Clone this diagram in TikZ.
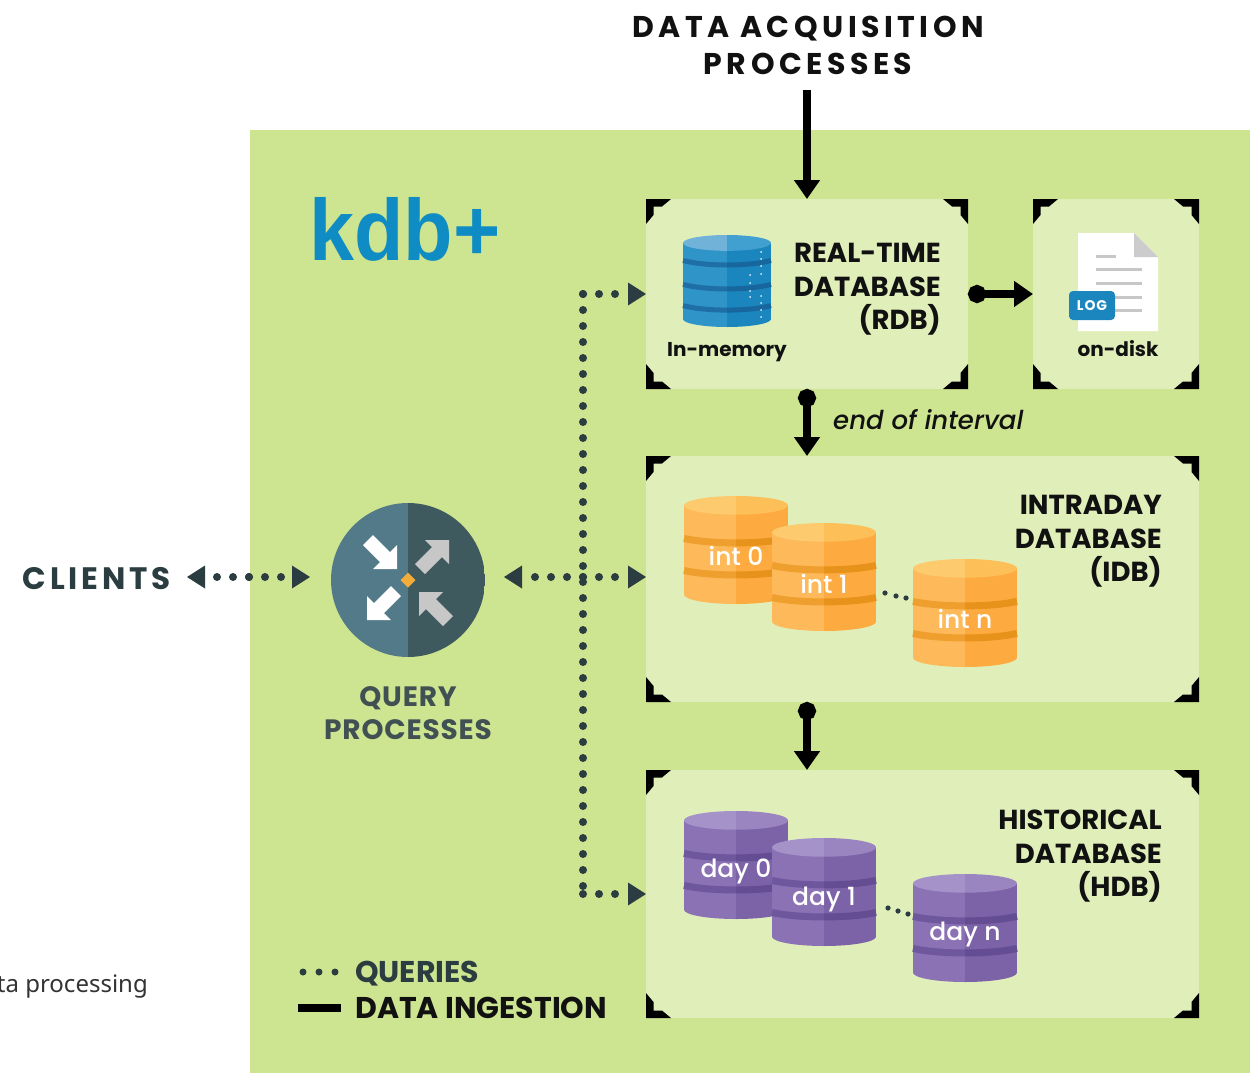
\documentclass[tikz,border=0pt]{standalone}
\usepackage{graphicx}
\usepackage{fontspec}
\setmainfont{Poppins}[ItalicFont={Poppins Medium Italic}]
\newfontfamily\mediumfont{Poppins Medium}
\newfontfamily\arialfont{Liberation Sans}
\newfontfamily\notefont{Noto Sans}
\usetikzlibrary{arrows.meta,calc}
\definecolor{bgGreen}{HTML}{CDE490}
\definecolor{panelGreen}{HTML}{E0EFBA}
\definecolor{slate}{HTML}{2B3D40}
\definecolor{ink}{HTML}{111111}
\definecolor{kdbBlue}{HTML}{0F8CC3}
\definecolor{qLeft}{HTML}{527A88}
\definecolor{qRight}{HTML}{3F5A5E}
\definecolor{qDiamond}{HTML}{F2AC3A}
\definecolor{orBL}{HTML}{FDB95A}\definecolor{orBR}{HTML}{FDAB40}\definecolor{orTL}{HTML}{FDCB6E}\definecolor{orTR}{HTML}{FDBF58}\definecolor{orDL}{HTML}{EF9F2E}\definecolor{orDR}{HTML}{E7921B}
\definecolor{puBL}{HTML}{8B72B5}\definecolor{puBR}{HTML}{7C63A8}\definecolor{puTL}{HTML}{A592C9}\definecolor{puTR}{HTML}{9A85C0}\definecolor{puDL}{HTML}{6F579E}\definecolor{puDR}{HTML}{654D94}
\definecolor{blBL}{HTML}{2F94C8}\definecolor{blBR}{HTML}{1B86BD}\definecolor{blTL}{HTML}{70B2D8}\definecolor{blTR}{HTML}{42A0D0}\definecolor{blDL}{HTML}{1F6FA6}\definecolor{blDR}{HTML}{17669E}
\tikzset{
  panel/.style={fill=panelGreen,draw=none,inner sep=0pt,outer sep=0pt},
  hd/.style={align=right,anchor=north east,font=\fontsize{27.5}{33.5}\selectfont\bfseries,text=ink,inner sep=0pt},
  flow/.style={draw=black,line width=8pt,-{Triangle[length=19pt,width=25pt]}},
  flowdot/.style={draw=black,line width=8pt,{Circle[length=18pt,width=18pt]}-{Triangle[length=19pt,width=25pt]}},
  qdots/.style={draw=slate,line width=8pt,line cap=round,dash pattern=on 0pt off 16pt},
  qarrow/.style={qdots,-{Triangle[length=18pt,width=23pt,fill=slate,line width=0pt]}},
  dbtext/.style={text=white,font=\fontsize{25}{25}\selectfont\mediumfont,inner sep=0pt},
  smalllabel/.style={font=\fontsize{20}{20}\selectfont\bfseries,text=ink,inner sep=0pt},
}
\newcommand\bracket[5]{% x y sx sy
  \fill[black,shift={(#1,#2)},xscale=#3,yscale=#4]
    (0,0) -- (25,0) -- (16,7.5) -- (7.5,7.5) -- (7.5,16) -- (0,25) -- cycle;}
\newcommand\brackets[4]{%
  \bracket{#1}{#2}{1}{1}{}\bracket{#3}{#2}{-1}{1}{}\bracket{#1}{#4}{1}{-1}{}\bracket{#3}{#4}{-1}{-1}{}}
\newcommand\dbhalf[9]{%
  \begin{scope}
    \clip (#1,#2-1) rectangle (#3,#2+#5+1);
    \pgfmathsetmacro\ry{#4*0.09}
    \fill[#6] ({#1-#4/2},#2+\ry) rectangle ({#1+#4/2},#2+#5-\ry);
    \fill[#6] (#1,#2+#5-\ry) ellipse [x radius=#4/2,y radius=\ry];
    \foreach \f in {#9}{
      \draw[#8,line width=\bandw pt]
        ({#1-#4/2},{#2+\f*#5+\bandw/2}) .. controls ({#1-#4/4},{#2+\f*#5+\bandw/2+6}) and ({#1+#4/4},{#2+\f*#5+\bandw/2+6}) .. ({#1+#4/2},{#2+\f*#5+\bandw/2});
    }
    \fill[#7] (#1,#2+\ry) ellipse [x radius=#4/2,y radius=\ry];
  \end{scope}}
\newcommand\dbstack[7]{%
  \def\bandw{#7}%
  \dbhalf{#1}{#2}{#1-#3}{#3}{#4}{#5BL}{#5TL}{#5DL}{#6}%
  \dbhalf{#1}{#2}{#1+#3}{#3}{#4}{#5BR}{#5TR}{#5DR}{#6}}
\newcommand\blockarrow[5]{%
  \fill[#5,shift={(#1,#2)},xscale=#3,yscale=#4]
    (0,0) -- (0,-24) -- (-7,-17) -- (-24,-34) -- (-34,-24) -- (-17,-7) -- (-24,0) -- cycle;}
\begin{document}
\begin{tikzpicture}[x=1pt,y=-1pt]
\useasboundingbox (0,0) rectangle (1250,1073);
\fill[white] (0,0) rectangle (1250,1073);
\fill[bgGreen] (250,130) rectangle (1250,1073);

% panels
\node[panel,minimum width=322pt,minimum height=190pt] (rdb) at (807,294) {};
\node[panel,minimum width=166pt,minimum height=190pt] (log) at (1116,294) {};
\node[panel,minimum width=553pt,minimum height=246pt] (idb) at (922.5,579) {};
\node[panel,minimum width=553pt,minimum height=248pt] (hdb) at (922.5,894) {};
\brackets{646}{199}{968}{389}
\brackets{1033}{199}{1199}{389}
\brackets{646}{456}{1199}{702}
\brackets{646}{770}{1199}{1018}

% top title and logo
\node[font=\fontsize{30}{37}\selectfont\bfseries\addfontfeatures{LetterSpace=15},text=ink,align=center,inner sep=0pt] (acq) at (808,45) {DATA ACQUISITION\\PROCESSES};
\node[font=\arialfont\bfseries\fontsize{87}{87}\selectfont,text=kdbBlue,inner sep=0pt,anchor=base west] (kdb) at (309,260) {\scalebox{0.93}[1]{kdb+}};

% RDB contents
\dbstack{727}{235}{88}{92}{bl}{0.25,0.51,0.74}{5}
\foreach \px/\py in {761/252,761/259,761/266,761/274,750/275,750/283,750/291,750/297,761/296,761/303,761/310,761/317}
  \fill[white!85!blBL] (\px,\py) circle (1pt);
\node[hd] (rdbt) at (941,243) {REAL-TIME\\DATABASE\\(RDB)};
\node[smalllabel] (inmem) at (727,352) {In-memory};

% log contents
\path[fill=white] (1078,233) -- (1134,233) -- (1158,257) -- (1158,331) -- (1078,331) -- cycle;
\fill[black!20] (1134,233) -- (1158,257) -- (1134,257) -- cycle;
\foreach \ly/\lx in {256/1116,269/1142,283/1142,297/1142,310/1142}
  \fill[black!22] (1096,\ly-1.5) rectangle (\lx,\ly+1.5);
\node[fill=blBR,rounded corners=4pt,minimum width=46pt,minimum height=29pt,inner sep=0pt,text=white,font=\fontsize{14}{14}\selectfont\bfseries\addfontfeatures{LetterSpace=6}] (badge) at (1092,305.5) {LOG};
\node[smalllabel] (ondisk) at (1118,349) {on-disk};

% IDB contents
\dbstack{736}{496}{104}{108}{or}{0.36,0.657}{7}
\node[dbtext] (int0) at (736,556) {int 0};
\dbstack{824}{523}{104}{108}{or}{0.36,0.657}{7}
\node[dbtext] (int1) at (824,584) {int 1};
\dbstack{965}{559}{104}{108}{or}{0.36,0.657}{7}
\node[dbtext] (intn) at (965,619) {int n};
\foreach \px/\py in {885/593,896/596,906/598} \fill[slate] (\px,\py) circle (2.6pt);
\node[hd] (idbt) at (1162,495) {INTRADAY\\DATABASE\\(IDB)};

% HDB contents
\dbstack{736}{811}{104}{108}{pu}{0.36,0.657}{7}
\node[dbtext] (day0) at (736,871) {day 0};
\dbstack{824}{838}{104}{108}{pu}{0.36,0.657}{7}
\node[dbtext] (day1) at (824,899) {day 1};
\dbstack{965}{874}{104}{108}{pu}{0.36,0.657}{7}
\node[dbtext] (dayn) at (965,934) {day n};
\foreach \px/\py in {888/908,898/911,908/914} \fill[slate] (\px,\py) circle (2.6pt);
\node[hd] (hdbt) at (1162,810) {HISTORICAL\\DATABASE\\(HDB)};

% query processes icon
\node[circle,minimum size=154pt,inner sep=0pt,outer sep=0pt] (query) at (408,580) {};
\begin{scope}
  \clip (query.center) circle (77);
  \fill[qLeft] (331,503) rectangle (408,657);
  \fill[qRight] (408,503) rectangle (485,657);
\end{scope}
\blockarrow{397}{569}{1}{1}{white}
\blockarrow{449}{540}{1}{-1}{black!22!white}
\blockarrow{367}{620}{-1}{1}{white}
\blockarrow{419}{592}{-1}{-1}{black!22!white}
\fill[qDiamond] (408,572.5) -- (415.5,580) -- (408,587.5) -- (400.5,580) -- cycle;
\node[align=center,font=\fontsize{28}{33.5}\selectfont\bfseries\addfontfeatures{LetterSpace=3},text=slate!90!white,inner sep=0pt] (qlabel) at (408,713) {QUERY\\PROCESSES};

% clients
\node[font=\fontsize{31}{31}\selectfont\bfseries\addfontfeatures{LetterSpace=12.5},text=slate,inner sep=0pt,anchor=east] (clients) at (171,579) {CLIENTS};

% connectors: ingestion
\coordinate (acqend) at (807,90);
\draw[flow] (acqend) -- (rdb.north);
\draw[flowdot] (rdb.east) -- (log.west);
\draw[flowdot] (rdb.south) -- (rdb.south |- idb.north);
\draw[flowdot] (rdb.south |- idb.south) -- (rdb.south |- hdb.north);
\node[font=\fontsize{26}{26}\selectfont\itshape,text=ink,inner sep=0pt,anchor=west] (eoi) at (833,420) {end of interval};

% connectors: queries
\coordinate (junction) at (583,577);
\coordinate (jtop) at (583,294);
\coordinate (jbot) at (583,894);
\coordinate (qright) at (504,577);
\coordinate (qleft) at (310,577);
\coordinate (cmid) at (249,577);
\coordinate (cleft) at (187,577);
\draw[qdots] (jtop) -- (jbot);
\draw[qarrow] (jtop) -- (rdb.west);
\draw[qarrow] (jbot) -- (hdb.west);
\draw[qarrow] (junction) -- (qright);
\draw[qarrow] (junction) -- (idb.west |- junction);
\draw[qarrow] (cmid) -- (cleft);
\draw[qarrow] (cmid) -- (qleft);

% legend
\coordinate (l1a) at (303,972);
\coordinate (l1b) at (336,972);
\draw[qdots,line width=7pt] (l1a) -- (l1b);
\coordinate (l2a) at (298,1008);
\coordinate (l2b) at (341,1008);
\draw[black,line width=8pt] (l2a) -- (l2b);
\node[font=\fontsize{30}{30}\selectfont\bfseries,text=slate,inner sep=0pt,anchor=west] (legq) at (355,974) {QUERIES};
\node[font=\fontsize{30}{30}\selectfont\bfseries,text=ink,inner sep=0pt,anchor=west] (legd) at (355,1008) {DATA INGESTION};

% clipped page caption
\node[font=\fontsize{24}{24}\selectfont\notefont,text=black!80,inner sep=0pt,anchor=east] (cap) at (148,987) {ta processing};
\end{tikzpicture}
\end{document}
